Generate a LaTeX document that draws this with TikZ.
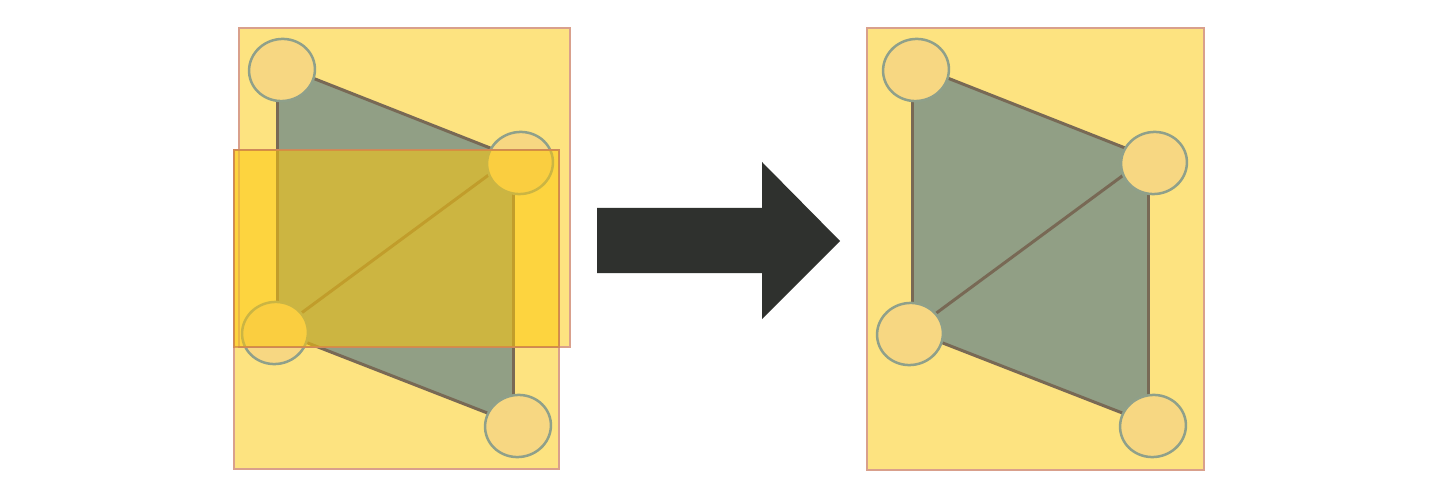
\documentclass[tikz,border=0pt]{standalone}
\usetikzlibrary{shapes.geometric}
\definecolor{paleyellow}{RGB}{253,227,128}
\definecolor{framepink}{RGB}{217,160,140}
\definecolor{nodefill}{RGB}{247,215,130}
\definecolor{nodeedge}{RGB}{143,160,138}
\definecolor{facegreen}{RGB}{145,159,133}
\definecolor{edgebrown}{RGB}{120,105,85}
\definecolor{overlayyellow}{RGB}{253,200,10}
\definecolor{overlayedge}{RGB}{200,120,60}
\definecolor{arrowdark}{RGB}{47,49,46}
\begin{document}
\begin{tikzpicture}[x=1pt,y=-1pt,
  panel/.style={fill=paleyellow},
  frame/.style={draw=framepink, line width=2pt},
  vnode/.style={ellipse, draw=nodeedge, line width=2.5pt, fill=nodefill,
    minimum width=66pt, minimum height=62pt, inner sep=0pt, rotate=10},
  face/.style={fill=facegreen},
  gedge/.style={draw=edgebrown, line width=3pt},
  overlay/.style={fill=overlayyellow, fill opacity=0.55},
  overlayframe/.style={draw=overlayedge, draw opacity=0.6, line width=2pt}]
\useasboundingbox (0,0) rectangle (1430,497);
\fill[white] (0,0) rectangle (1430,497);

% ---------- left panel ----------
\fill[panel] (239,28) rectangle (570,347);
\fill[panel] (234,150) rectangle (559,469);
\coordinate (la) at (277,64);
\coordinate (lb) at (513,157);
\coordinate (lc) at (277,331);
\coordinate (ld) at (513,423);
\fill[face] (la) -- (lb) -- (ld) -- (lc) -- cycle;
\draw[gedge] (la) -- (lb);
\draw[gedge] (lb) -- (ld);
\draw[gedge] (ld) -- (lc);
\draw[gedge] (lc) -- (la);
\draw[gedge] (lc) -- (lb);
\node[vnode] (l1) at (282,70) {};
\node[vnode] (l2) at (520,163) {};
\node[vnode] (l3) at (275,333) {};
\node[vnode] (l4) at (518,426) {};
\draw[frame] (239,28) rectangle (570,347);
\draw[frame] (234,150) rectangle (559,469);
\fill[overlay] (234,150) rectangle (559,347);
\draw[overlayframe] (234,150) rectangle (559,347);

% ---------- arrow ----------
\fill[arrowdark] (597,208) -- (762,208) -- (762,162) -- (840,241)
  -- (762,319) -- (762,273) -- (597,273) -- cycle;

% ---------- right panel ----------
\fill[panel] (867,28) rectangle (1204,470);
\coordinate (ra) at (912,64);
\coordinate (rb) at (1148,157);
\coordinate (rc) at (912,331);
\coordinate (rd) at (1148,423);
\fill[face] (ra) -- (rb) -- (rd) -- (rc) -- cycle;
\draw[gedge] (ra) -- (rb);
\draw[gedge] (rb) -- (rd);
\draw[gedge] (rd) -- (rc);
\draw[gedge] (rc) -- (ra);
\draw[gedge] (rc) -- (rb);
\node[vnode] (r1) at (916,70) {};
\node[vnode] (r2) at (1154,163) {};
\node[vnode] (r3) at (910,334) {};
\node[vnode] (r4) at (1153,426) {};
\draw[frame] (867,28) rectangle (1204,470);
\end{tikzpicture}
\end{document}
